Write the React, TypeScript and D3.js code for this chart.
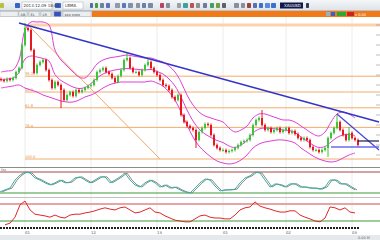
import React, { useEffect } from 'react';
import * as d3 from 'd3';

const W = 380;
const H = 240;

// Close prices, one per bar (bars ~3px apart)
const closes = [
  1330, 1328, 1332, 1330, 1334, 1346, 1354, 1400, 1434, 1430,
  1390, 1344, 1360, 1366, 1370, 1350, 1330, 1314, 1326, 1320,
  1310, 1290, 1300, 1306, 1298, 1310, 1306, 1310, 1314, 1318,
  1320, 1330, 1346, 1350, 1354, 1346, 1342, 1334, 1326, 1338,
  1350, 1370, 1374, 1354, 1346, 1346, 1340, 1350, 1360, 1366,
  1354, 1346, 1340, 1330, 1320, 1318, 1310, 1296, 1290, 1300,
  1260, 1246, 1238, 1234, 1230, 1210, 1226, 1234, 1242, 1240,
  1220, 1200, 1194, 1190, 1190, 1186, 1188, 1190, 1194, 1200,
  1206, 1208, 1210, 1220, 1240, 1250, 1254, 1240, 1230, 1234,
  1226, 1230, 1234, 1226, 1230, 1234, 1224, 1228, 1222, 1214,
  1210, 1214, 1210, 1196, 1190, 1190, 1186, 1190, 1194, 1214,
  1224, 1234, 1246, 1230, 1220, 1210, 1224, 1214, 1210, 1200,
];
const firstOpen = 1332;
const wickSize = 3;
const spikeHighs: [number, number][] = [[8, 1444], [42, 1384], [49, 1372], [87, 1270], [112, 1260], [116, 1236]];
const spikeLows: [number, number][] = [[20, 1274], [65, 1194], [109, 1176]];

// Bollinger bands, sampled every 2 bars
const bbUpper = [
  1346, 1348, 1350, 1370, 1430, 1446, 1446, 1446, 1440, 1390,
  1370, 1358, 1346, 1336, 1334, 1346, 1362, 1370, 1374, 1376,
  1378, 1380, 1378, 1376, 1374, 1374, 1370, 1366, 1358, 1346,
  1326, 1300, 1280, 1266, 1258, 1254, 1250, 1246, 1234, 1226,
  1230, 1238, 1254, 1262, 1262, 1258, 1254, 1250, 1250, 1246,
  1238, 1230, 1222, 1218, 1226, 1246, 1262, 1266, 1262, 1254,
];
const bbLower = [
  1314, 1316, 1318, 1320, 1314, 1310, 1306, 1300, 1296, 1292,
  1288, 1286, 1286, 1290, 1296, 1300, 1306, 1314, 1320, 1324,
  1326, 1326, 1326, 1326, 1326, 1328, 1324, 1318, 1306, 1290,
  1266, 1240, 1216, 1198, 1186, 1176, 1168, 1164, 1162, 1164,
  1170, 1180, 1194, 1202, 1206, 1208, 1210, 1210, 1208, 1204,
  1194, 1186, 1178, 1172, 1168, 1166, 1168, 1174, 1180, 1184,
];

// Fibonacci retracement
const fibHigh = 1440;
const fibLow = 1172;
const fibLevels = [0, 0.382, 0.5, 0.618, 0.764, 1];
const fibLabels = ['0.0', '38.2', '50.0', '61.8', '76.4', '100.0'];
const fibStartBar = 8;
const fibDiag: [number, number][] = [[9, 1440], [53, 1172]];

// Trend lines [bar, price]
const blueTrend: [number, number][] = [[6, 1444], [126, 1246]];
const blueTrend2: [number, number][] = [[112, 1262], [126, 1190]];
const blueLevel: [number, number][] = [[110, 1196], [126, 1196]];
const navyLevel: [number, number][] = [[119, 1208], [126, 1208]];

// Oscillator 1 (stochastic-like), sampled every 5px
const osc1 = [
  23, 29, 34, 57, 71, 80, 77, 63, 57, 49,
  43, 49, 57, 49, 51, 63, 66, 57, 49, 57,
  66, 66, 49, 57, 66, 77, 57, 43, 37, 49,
  57, 49, 37, 43, 34, 37, 29, 23, 20, 34,
  49, 60, 57, 40, 26, 29, 29, 31, 49, 63,
  69, 80, 77, 57, 37, 46, 43, 37, 46, 46,
  37, 37, 34, 34, 31, 37, 57, 57, 46, 46,
  37, 29,
];
const osc1Levels = [80, 20];

// Oscillator 2 (RSI-like)
const osc2 = [
  21, 25, 39, 68, 77, 56, 46, 44, 42, 39,
  44, 39, 37, 44, 46, 46, 49, 51, 54, 58,
  61, 58, 56, 61, 63, 56, 49, 51, 56, 61,
  51, 49, 42, 37, 32, 30, 28, 28, 35, 42,
  44, 39, 37, 37, 35, 35, 44, 56, 61, 63,
  75, 65, 61, 58, 54, 51, 51, 54, 54, 44,
  39, 35, 30, 28, 37, 63, 61, 56, 61, 51,
  49,
];
const osc2Levels = [70, 30];

const timeTickBars = [8, 30, 52, 74, 95, 117];
const timeLabels = ['01', '12', '13', '01', '02', '03'];

const toolbarIcons: [number, number, string][] = [
  [0, 4, '#b8c040'], [15, 5, '#3a64c8'], [55, 6, '#3a64c8'], [90, 3, '#5070a0'], [95, 3, '#40a040'],
  [100, 4, '#7080a0'], [106, 4, '#6070c0'], [115, 5, '#909aa8'], [122, 4, '#5a78c0'], [128, 5, '#8090a8'],
  [136, 4, '#8a94a0'], [142, 4, '#6a80b0'], [148, 5, '#7a8aa0'], [160, 4, '#c04060'], [166, 4, '#8090a0'],
  [177, 4, '#9aa0a8'], [183, 5, '#40a0a0'], [190, 4, '#c05050'], [196, 4, '#909090'], [203, 4, '#6a7aa0'],
  [210, 4, '#40a060'], [216, 4, '#70a040'], [222, 4, '#606070'], [234, 5, '#8890a0'], [241, 4, '#8890a0'],
  [247, 4, '#a04040'], [253, 4, '#5a70b0'], [259, 4, '#3a70d0'], [265, 5, '#5a8ae0'], [271, 5, '#3a70d0'],
  [306, 3, '#303a60'],
];
const tabs: [number, number, string][] = [
  [0, 18, ''], [19, 8, 'AB'], [29, 10, 'EL'], [41, 10, 'LR'], [54, 7, ''], [63, 28, 'xxx xxxx'],
];

export default function App() {
  useEffect(() => {
    document.body.style.margin = '0';
  }, []);

  const N = closes.length;
  const x = d3.scaleLinear().domain([0, N - 1]).range([1, 358]);
  const y = d3.scaleLinear().domain([1160, 1450]).range([165, 20]);

  const candles = closes.map((c, i) => {
    const o = i === 0 ? firstOpen : closes[i - 1];
    let hi = Math.max(o, c) + wickSize;
    let lo = Math.min(o, c) - wickSize;
    const sh = spikeHighs.find((s) => s[0] === i);
    if (sh) hi = sh[1];
    const sl = spikeLows.find((s) => s[0] === i);
    if (sl) lo = sl[1];
    return { i, o, c, hi, lo };
  });

  const bbX = (k: number) => x(2 * k);
  const bbLine = d3.line<number>().x((_, k) => bbX(k)).y((d) => y(d)).curve(d3.curveCatmullRom);
  const bbMid = bbUpper.map((u, k) => (u + bbLower[k]) / 2);

  const seg = (pts: [number, number][]) => d3.line<[number, number]>().x((d) => x(d[0])).y((d) => y(d[1]))(pts) || '';

  const ox1 = d3.scaleLinear().domain([0, osc1.length - 1]).range([0, 355]);
  const oy1 = d3.scaleLinear().domain([0, 100]).range([200, 165]);
  const osc1Line = d3.line<number>().x((_, k) => ox1(k)).y((d) => oy1(d));
  const osc1LineLag = d3.line<number>().x((_, k) => ox1(k) + 2).y((d) => oy1(d));

  const ox2 = d3.scaleLinear().domain([0, osc2.length - 1]).range([5, 355]);
  const oy2 = d3.scaleLinear().domain([0, 100]).range([233.75, 191.25]);
  const osc2Line = d3.line<number>().x((_, k) => ox2(k)).y((d) => oy2(d));

  const rightTicks = d3.range(1180, 1450, 20);

  return (
    <svg width={W} height={H} style={{ position: 'absolute', left: 0, top: 0, display: 'block' }}
      fontFamily="'DejaVu Sans', sans-serif">
      <defs>
        <clipPath id="mainClip"><rect x={0} y={17} width={W} height={150} /></clipPath>
        <clipPath id="o1Clip"><rect x={0} y={168} width={W} height={29} /></clipPath>
        <clipPath id="o2Clip"><rect x={0} y={198} width={W} height={28} /></clipPath>
        <linearGradient id="tb" x1="0" x2="0" y1="0" y2="1">
          <stop offset="0" stopColor="#f4f6f8" />
          <stop offset="1" stopColor="#dde2e7" />
        </linearGradient>
      </defs>
      <rect x={0} y={0} width={W} height={H} fill="#ffffff" />

      {/* toolbar */}
      <rect x={0} y={0} width={W} height={11} fill="url(#tb)" />
      <line x1={0} x2={W} y1={10.5} y2={10.5} stroke="#b8c0c8" />
      {toolbarIcons.map(([ix, iw, col], k) => (
        <rect key={'ti' + k} x={ix} y={3} width={iw} height={5} fill={col} rx={0.8} />
      ))}
      <rect x={22} y={2} width={30} height={7} fill="#ffffff" stroke="#a8b0b8" strokeWidth={0.5} />
      <text x={23.5} y={7.3} fontSize={4} fill="#303030">2013.12.09 18:00</text>
      <rect x={63} y={2} width={20} height={7} fill="#ffffff" stroke="#a8b0b8" strokeWidth={0.5} />
      <text x={65} y={7.3} fontSize={4} fill="#303030">LBMA</text>
      <rect x={280} y={2.5} width={23} height={6} fill="#101848" />
      <text x={284} y={7.2} fontSize={4} fill="#ffffff">XAUUSD</text>

      {/* tab bar */}
      <rect x={0} y={11} width={92} height={6} fill="#d4d8dc" />
      {tabs.map(([tx, tw, label], k) => (
        <g key={'tab' + k}>
          <rect x={tx} y={11.5} width={tw} height={5} fill={k === 4 ? '#3a52c0' : '#eceef0'} stroke="#a0a8b0" strokeWidth={0.4} />
          {label && <text x={tx + 1.5} y={15.5} fontSize={3.5} fill="#404040">{label}</text>}
        </g>
      ))}
      <rect x={92} y={11} width={W - 92} height={6} fill="#f07a18" />
      <rect x={326} y={12} width={4} height={4} fill="#9ab0c8" />
      <rect x={331} y={12} width={4} height={4} fill="#3a62c0" />
      <rect x={337} y={12} width={9} height={4} fill="#30a830" />
      <rect x={347} y={12} width={7} height={4} fill="#d02020" />
      <text x={355} y={15.6} fontSize={3.5} fill="#ffffff">x 0.00</text>

      {/* vertical grid */}
      {timeTickBars.map((b, k) => (
        <line key={'vg' + k} x1={x(b)} x2={x(b)} y1={17} y2={227} stroke="#e2eae2" strokeWidth={0.8} />
      ))}

      {/* main panel */}
      <g clipPath="url(#mainClip)">
        {fibLevels.map((lv, k) => {
          const p = fibHigh - lv * (fibHigh - fibLow);
          return (
            <line key={'fib' + k} x1={k === 0 ? x(fibStartBar + 1) : x(fibStartBar)} x2={W} y1={y(p)} y2={y(p)}
              stroke={k === 0 ? '#fbd2ae' : '#f2ac6c'} strokeWidth={k === 0 ? 3 : 1} />
          );
        })}
        {fibLevels.map((lv, k) => k === 0 ? null : (
          <text key={'fibl' + k} x={x(fibStartBar)} y={y(fibHigh - lv * (fibHigh - fibLow)) - 0.8} fontSize={3.6} fill="#e09050">
            {fibLabels[k]}
          </text>
        ))}
        <path d={seg(fibDiag)} stroke="#f0a868" strokeWidth={1} fill="none" />

        {/* bollinger */}
        <path d={bbLine(bbUpper) || ''} stroke="#e040d8" strokeWidth={1} fill="none" />
        <path d={bbLine(bbMid) || ''} stroke="#e040d8" strokeWidth={1} fill="none" />
        <path d={bbLine(bbLower) || ''} stroke="#e040d8" strokeWidth={1} fill="none" />

        {/* candles */}
        {candles.map((d) => {
          const up = d.c >= d.o;
          const col = up ? '#3cc43c' : '#e8181e';
          const top = y(Math.max(d.o, d.c));
          const bot = y(Math.min(d.o, d.c));
          return (
            <g key={'c' + d.i}>
              <line x1={x(d.i)} x2={x(d.i)} y1={y(d.hi)} y2={y(d.lo)} stroke={col} strokeWidth={1} />
              <rect x={x(d.i) - 1} y={top} width={2} height={Math.max(1, bot - top)} fill={col} />
            </g>
          );
        })}

        {/* trend lines */}
        <path d={seg(blueTrend)} stroke="#3434c8" strokeWidth={1.4} fill="none" />
        <path d={seg(blueTrend2)} stroke="#4646d8" strokeWidth={1.2} fill="none" />
        <path d={seg(blueLevel)} stroke="#6a6af0" strokeWidth={1.3} fill="none" />
        <path d={seg(navyLevel)} stroke="#1a1a50" strokeWidth={1.2} fill="none" />
      </g>
      {rightTicks.map((p) => (
        <line key={'rt' + p} x1={376} x2={380} y1={y(p)} y2={y(p)} stroke="#909090" strokeWidth={0.6} />
      ))}
      <line x1={0} x2={W} y1={167.5} y2={167.5} stroke="#8c8c8c" strokeWidth={1} />

      {/* oscillator 1 */}
      <g clipPath="url(#o1Clip)">
        <line x1={0} x2={W} y1={oy1(osc1Levels[0])} y2={oy1(osc1Levels[0])} stroke="#a84848" strokeWidth={1} />
        <line x1={0} x2={W} y1={oy1(osc1Levels[1])} y2={oy1(osc1Levels[1])} stroke="#3c9c3c" strokeWidth={1.2} />
        <path d={osc1LineLag(osc1) || ''} stroke="#8a8a8a" strokeWidth={1} fill="none" />
        <path d={osc1Line(osc1) || ''} stroke="#38b0a0" strokeWidth={1} fill="none" />
        <text x={1} y={171} fontSize={3.2} fill="#606060">Sto</text>
      </g>
      <line x1={0} x2={W} y1={197.5} y2={197.5} stroke="#b4b4b4" strokeWidth={0.8} />

      {/* oscillator 2 */}
      <g clipPath="url(#o2Clip)">
        <line x1={0} x2={W} y1={oy2(osc2Levels[0])} y2={oy2(osc2Levels[0])} stroke="#e8a4a4" strokeWidth={2} />
        <line x1={0} x2={W} y1={oy2(osc2Levels[1])} y2={oy2(osc2Levels[1])} stroke="#3c9c3c" strokeWidth={1.2} />
        <path d={osc2Line(osc2) || ''} stroke="#e02828" strokeWidth={1} fill="none" />
      </g>

      {/* time axis */}
      {candles.map((d) => (
        <rect key={'tk' + d.i} x={x(d.i) - 1} y={227} width={2} height={2} fill="#202020" />
      ))}
      {timeTickBars.map((b, k) => (
        <text key={'tl' + k} x={x(b)} y={233.5} fontSize={3.8} fill="#505050">{timeLabels[k]}</text>
      ))}
      <rect x={0} y={235} width={W} height={5} fill="#e6e9ec" />
      <text x={358} y={239} fontSize={3.4} fill="#606060">0.00 M</text>
    </svg>
  );
}
